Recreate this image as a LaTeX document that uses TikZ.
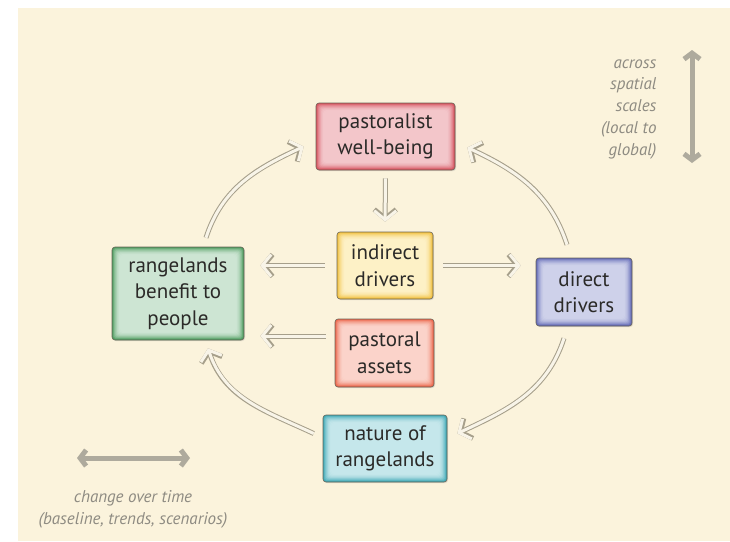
\documentclass[tikz,border=0pt]{standalone}
\usepackage{fontspec}
\setmainfont{PT Sans}
\usepackage{tikz}
\usetikzlibrary{arrows.meta,shadows}
\definecolor{paper}{HTML}{FBF3DC}
\definecolor{flowedge}{HTML}{A69F8B}
\definecolor{flowfill}{HTML}{F8F4E8}
\definecolor{scalegray}{HTML}{AEAA9D}
\definecolor{notegray}{HTML}{8E8B82}
\definecolor{boxline}{HTML}{6B665A}
\definecolor{txt}{HTML}{2B2A28}
\definecolor{redE}{HTML}{D64F5B}\definecolor{redC}{HTML}{F3C6CA}
\definecolor{yelE}{HTML}{F2BF3A}\definecolor{yelC}{HTML}{FDF1C6}
\definecolor{orgE}{HTML}{EC6448}\definecolor{orgC}{HTML}{FBD3CA}
\definecolor{grnE}{HTML}{4A9A5C}\definecolor{grnC}{HTML}{CDE5D3}
\definecolor{bluE}{HTML}{5E66B5}\definecolor{bluC}{HTML}{CED1EA}
\definecolor{cyaE}{HTML}{3AA7B4}\definecolor{cyaC}{HTML}{C5E7EB}
\tikzset{
  glow/.style 2 args={path picture={
    \foreach \k in {0,...,9}{
      \pgfmathsetmacro\gl{100*(1-\k/9)^2}
      \fill[#1!\gl!#2, rounded corners=3pt]
        ([shift={(\k*0.9pt,\k*0.9pt)}]path picture bounding box.south west)
        rectangle ([shift={(-\k*0.9pt,-\k*0.9pt)}]path picture bounding box.north east);
    }}},
  box/.style={draw=boxline, line width=0.6pt, rounded corners=3pt, align=center,
    inner sep=0pt, text=txt, font=\fontsize{21}{26.5}\selectfont,
    drop shadow={opacity=0.25, shadow xshift=1pt, shadow yshift=-1pt}},
  flow/.style={draw=flowedge, line width=5pt,
    -{Straight Barb[length=9pt,width=22pt]},
    postaction={draw=flowfill, line width=3pt, -{Straight Barb[length=9pt,width=22pt]}}},
  scale arrow/.style={draw=scalegray, line width=5pt,
    {Straight Barb[length=6pt,width=16pt]}-{Straight Barb[length=6pt,width=16pt]}},
  note/.style={text=notegray, font=\itshape\fontsize{17}{21.7}\selectfont}
}
\begin{document}
\begin{tikzpicture}[x=1pt,y=1pt]
\useasboundingbox (0,0) rectangle (730,-541);
\fill[white] (0,0) rectangle (730,-541);
\fill[paper] (18,-8) rectangle (730,-541);

\node[box, glow={redE}{redC}, minimum width=139, minimum height=67] (pw) at (385.5,-136.5) {pastoralist\\well-being};
\node[box, glow={yelE}{yelC}, minimum width=96, minimum height=67] (id) at (385,-265.5) {indirect\\drivers};
\node[box, glow={orgE}{orgC}, minimum width=99, minimum height=68] (pa) at (384.5,-353) {pastoral\\assets};
\node[box, glow={grnE}{grnC}, minimum width=132, minimum height=93] (rb) at (178,-293.5) {rangelands\\benefit to\\people};
\node[box, glow={bluE}{bluC}, minimum width=96, minimum height=68] (dd) at (584,-292) {direct\\drivers};
\node[box, glow={cyaE}{cyaC}, minimum width=124, minimum height=67] (nr) at (385,-448.5) {nature of\\rangelands};

\draw[flow] ([xshift=28pt,yshift=9pt]rb.north) to[out=72,in=205] ([xshift=-12pt,yshift=-10pt]pw.west);
\draw[flow] ([xshift=-17pt,yshift=13pt]dd.north) to[out=108,in=-25] ([xshift=12pt,yshift=-11pt]pw.east);
\draw[flow] ([xshift=-20pt,yshift=-12pt]dd.south) to[out=-108,in=25] ([xshift=10pt,yshift=15pt]nr.east);
\draw[flow] ([xshift=-9pt,yshift=15pt]nr.west) to[out=155,in=-72] ([xshift=30pt,yshift=-8pt]rb.south);
\draw[flow, shorten <=8pt, shorten >=10pt] (pw) -- (id);
\draw[flow, shorten <=12pt, shorten >=16pt] (id.west) -- (id.west -| rb.east);
\draw[flow, shorten <=10pt, shorten >=15pt] (id.east) -- (id.east -| dd.west);
\draw[flow, shorten <=9pt, shorten >=16pt] ([yshift=17pt]pa.west) -- ([yshift=17pt]pa.west -| rb.east);

\coordinate (sTop) at (692,-50);
\coordinate (sBot) at (692,-163);
\draw[scale arrow] (sTop) -- (sBot);
\node[note, align=right, anchor=north east] (space) at (660,-56) {across\\spatial\\scales\\(local to\\global)};

\coordinate (tL) at (77,-458);
\coordinate (tR) at (190,-458);
\draw[scale arrow] (tL) -- (tR);
\node[note, align=center, anchor=north] (time) at (133,-487) {change over time\\(baseline, trends, scenarios)};
\end{tikzpicture}
\end{document}
